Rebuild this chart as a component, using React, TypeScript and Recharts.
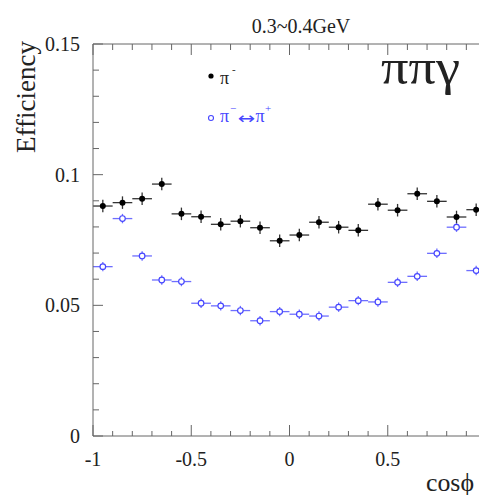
import React from 'react';
import { ComposedChart, Scatter, XAxis, YAxis, ErrorBar } from 'recharts';

// ---- data ----
const binCenters = [-0.95, -0.85, -0.75, -0.65, -0.55, -0.45, -0.35, -0.25, -0.15, -0.05, 0.05, 0.15, 0.25, 0.35, 0.45, 0.55, 0.65, 0.75, 0.85, 0.95];
const binHalfWidths = [0.05, 0.05, 0.05, 0.05, 0.05, 0.05, 0.05, 0.05, 0.05, 0.05, 0.05, 0.05, 0.05, 0.05, 0.05, 0.05, 0.05, 0.05, 0.05, 0.05];
const piMinusEff = [0.0880, 0.0893, 0.0908, 0.0964, 0.0850, 0.0839, 0.0810, 0.0822, 0.0797, 0.0747, 0.0769, 0.0818, 0.0799, 0.0787, 0.0887, 0.0864, 0.0927, 0.0898, 0.0838, 0.0866];
const piMinusErr = [0.0024, 0.0024, 0.0024, 0.0024, 0.0024, 0.0024, 0.0024, 0.0024, 0.0024, 0.0024, 0.0024, 0.0024, 0.0024, 0.0024, 0.0024, 0.0024, 0.0024, 0.0024, 0.0024, 0.0024];
const swappedEff = [0.0648, 0.0832, 0.0689, 0.0597, 0.0591, 0.0508, 0.0498, 0.0480, 0.0441, 0.0476, 0.0466, 0.0459, 0.0493, 0.0518, 0.0513, 0.0588, 0.0611, 0.0699, 0.0799, 0.0633];
const swappedErr = [0.0018, 0.0018, 0.0018, 0.0018, 0.0018, 0.0018, 0.0018, 0.0018, 0.0018, 0.0018, 0.0018, 0.0018, 0.0018, 0.0018, 0.0018, 0.0018, 0.0018, 0.0018, 0.0018, 0.0018];

const xTicks = [-1, -0.9, -0.8, -0.7, -0.6, -0.5, -0.4, -0.3, -0.2, -0.1, 0, 0.1, 0.2, 0.3, 0.4, 0.5, 0.6, 0.7, 0.8, 0.9, 1];
const xMajorTicks = [-1, -0.5, 0, 0.5];
const xMajorLabels = ['-1', '-0.5', '0', '0.5'];
const yTicks = [0, 0.01, 0.02, 0.03, 0.04, 0.05, 0.06, 0.07, 0.08, 0.09, 0.1, 0.11, 0.12, 0.13, 0.14, 0.15];
const yMajorTicks = [0, 0.05, 0.1, 0.15];
const yMajorLabels = ['0', '0.05', '0.1', '0.15'];

const title = '0.3~0.4GeV';
const yTitle = 'Efficiency';
const xTitle = 'cosϕ';
const channelLabel = 'ππγ';

const piMinusData = binCenters.map((x, i) => ({ x, y: piMinusEff[i], ex: binHalfWidths[i], ey: piMinusErr[i] }));
const swappedData = binCenters.map((x, i) => ({ x, y: swappedEff[i], ex: binHalfWidths[i], ey: swappedErr[i] }));

const FONT = '"Liberation Serif", "Times New Roman", serif';
const AXIS = '#666';
const TEXT = '#222';
const BLUE = '#4646ff';
const BLUE_ERR = '#6e6eff';

const majorIndex = (arr: number[], v: number) => arr.findIndex((m) => Math.abs(m - v) < 1e-9);

const BottomTick = (props: any) => {
  const { x, y, payload } = props;
  const idx = majorIndex(xMajorTicks, payload.value);
  const major = idx >= 0 || Math.abs(payload.value - 1) < 1e-9;
  return (
    <g>
      <line x1={x} x2={x} y1={y} y2={y - (major ? 11 : 5)} stroke={AXIS} strokeWidth={1} />
      {idx >= 0 && (
        <text x={x} y={y + 30} textAnchor="middle" fontSize={20} fontFamily={FONT} fill={TEXT}>
          {xMajorLabels[idx]}
        </text>
      )}
    </g>
  );
};

const TopTick = (props: any) => {
  const { x, y, payload } = props;
  const major = majorIndex(xMajorTicks, payload.value) >= 0 || Math.abs(payload.value - 1) < 1e-9;
  return <line x1={x} x2={x} y1={y} y2={y + (major ? 11 : 6)} stroke={AXIS} strokeWidth={1} />;
};

const LeftTick = (props: any) => {
  const { x, y, payload } = props;
  const idx = majorIndex(yMajorTicks, payload.value);
  const major = idx >= 0;
  return (
    <g>
      <line x1={x} x2={x + (major ? 10 : 6)} y1={y} y2={y} stroke={AXIS} strokeWidth={1} />
      {major && (
        <text x={x - 13} y={y + 7} textAnchor="end" fontSize={20} fontFamily={FONT} fill={TEXT}>
          {yMajorLabels[idx]}
        </text>
      )}
    </g>
  );
};

const BlackDot = (props: any) => <circle cx={props.cx} cy={props.cy} r={3} fill="#000" />;
const BlueDot = (props: any) => (
  <circle cx={props.cx} cy={props.cy} r={2.8} fill="#fff" stroke={BLUE} strokeWidth={1.2} />
);

export default function App() {
  return (
    <div style={{ position: 'fixed', left: 0, top: 0, width: 479, height: 495, overflow: 'hidden', background: '#fff' }}>
      <div style={{ position: 'absolute', left: 0, top: 0 }}>
        <ComposedChart width={500} height={495} margin={{ top: 34, right: 14, bottom: 29, left: 33 }}>
          <XAxis
            xAxisId={0}
            dataKey="x"
            type="number"
            domain={[-1, 1]}
            ticks={xTicks}
            interval={0}
            tickSize={0}
            tickMargin={0}
            tickLine={false}
            axisLine={{ stroke: AXIS, strokeWidth: 1 }}
            tick={<BottomTick />}
            height={30}
            allowDataOverflow
          />
          <XAxis
            xAxisId="top"
            orientation="top"
            dataKey="x"
            type="number"
            domain={[-1, 1]}
            ticks={xTicks}
            interval={0}
            tickSize={0}
            tickMargin={0}
            tickLine={false}
            axisLine={{ stroke: AXIS, strokeWidth: 1 }}
            tick={<TopTick />}
            height={10}
            allowDataOverflow
          />
          <YAxis
            type="number"
            domain={[0, 0.15]}
            ticks={yTicks}
            interval={0}
            tickSize={0}
            tickMargin={0}
            tickLine={false}
            axisLine={{ stroke: AXIS, strokeWidth: 1 }}
            tick={<LeftTick />}
            width={60}
            allowDataOverflow
          />
          <Scatter data={swappedData} dataKey="y" shape={<BlueDot />} isAnimationActive={false}>
            <ErrorBar dataKey="ex" direction="x" width={0} stroke={BLUE_ERR} strokeWidth={1.3} isAnimationActive={false} />
            <ErrorBar dataKey="ey" direction="y" width={0} stroke={BLUE_ERR} strokeWidth={1.3} isAnimationActive={false} />
          </Scatter>
          <Scatter data={piMinusData} dataKey="y" shape={<BlackDot />} isAnimationActive={false}>
            <ErrorBar dataKey="ex" direction="x" width={0} stroke="#333" strokeWidth={1.3} isAnimationActive={false} />
            <ErrorBar dataKey="ey" direction="y" width={0} stroke="#333" strokeWidth={1.3} isAnimationActive={false} />
          </Scatter>
        </ComposedChart>
      </div>
      <svg width={479} height={495} style={{ position: 'absolute', left: 0, top: 0, pointerEvents: 'none' }}>
        <text x={301} y={33} textAnchor="middle" fontSize={20} fontFamily={FONT} fill={TEXT}>{title}</text>
        <text transform="translate(35,97) rotate(-90)" textAnchor="middle" fontSize={27} fontFamily={FONT} fill={TEXT}>{yTitle}</text>
        <text x={474} y={491} textAnchor="end" fontSize={25} fontFamily={FONT} fill={TEXT} textLength={48} lengthAdjust="spacingAndGlyphs">{xTitle}</text>
        <text x={381} y={84} fontSize={50} fontFamily={FONT} fill={TEXT} textLength={79} lengthAdjust="spacingAndGlyphs">{channelLabel}</text>
        <circle cx={211} cy={76} r={2.6} fill="#000" />
        <text x={220} y={84} fontSize={18} fontFamily={FONT} fill={TEXT}>π</text>
        <text x={232} y={73} fontSize={11} fontFamily={FONT} fill={TEXT}>-</text>
        <circle cx={211} cy={118} r={2.5} fill="#fff" stroke={BLUE} strokeWidth={1.1} />
        <text x={220} y={121.5} fontSize={18} fontFamily={FONT} fill={BLUE}>π</text>
        <text x={230} y={112} fontSize={11} fontFamily={FONT} fill={BLUE}>−</text>
        <text x={237.5} y={123.5} fontSize={16} fontFamily='"DejaVu Sans", sans-serif' fill={BLUE} textLength={17.5} lengthAdjust="spacingAndGlyphs">↔</text>
        <text x={255.5} y={121.5} fontSize={18} fontFamily={FONT} fill={BLUE}>π</text>
        <text x={265} y={112} fontSize={11} fontFamily={FONT} fill={BLUE}>+</text>
      </svg>
    </div>
  );
}
